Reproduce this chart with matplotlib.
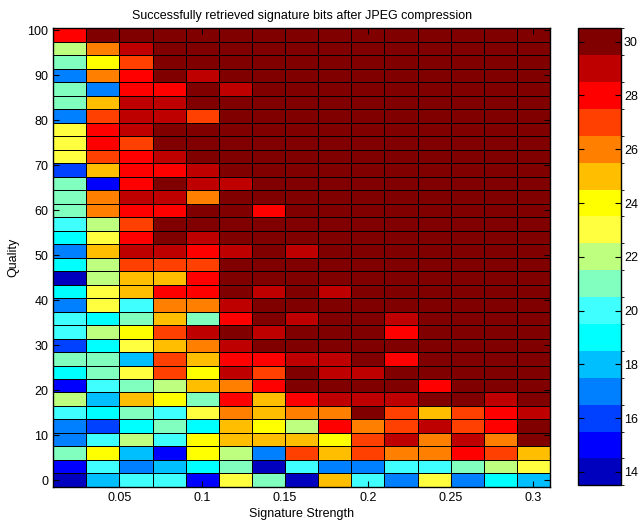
import matplotlib
matplotlib.use("Agg")
import matplotlib.pyplot as plt
import numpy as np
from matplotlib.colors import ListedColormap, BoundaryNorm

plt.rcParams['font.family'] = ['Liberation Sans', 'DejaVu Sans']
plt.rcParams['font.size'] = 9

# signature strength (column centres) and JPEG quality (row centres)
strength = [0.02, 0.04, 0.06, 0.08, 0.10, 0.12, 0.14, 0.16,
            0.18, 0.20, 0.22, 0.24, 0.26, 0.28, 0.30]
quality = [99, 96, 93, 90, 87, 84, 81, 78, 75, 72, 69, 66, 63, 60, 57, 54, 51,
           48, 45, 42, 39, 36, 33, 30, 27, 24, 21, 18, 15, 12, 9, 6, 3, 0]

# retrieved bits, one row per quality (top row = quality 99)
bits = [
    [28, 30, 30, 30, 30, 30, 30, 30, 30, 30, 30, 30, 30, 30, 30],
    [22, 26, 29, 30, 30, 30, 30, 30, 30, 30, 30, 30, 30, 30, 30],
    [21, 24, 27, 30, 30, 30, 30, 30, 30, 30, 30, 30, 30, 30, 30],
    [17, 26, 28, 30, 29, 30, 30, 30, 30, 30, 30, 30, 30, 30, 30],
    [21, 17, 28, 28, 30, 29, 30, 30, 30, 30, 30, 30, 30, 30, 30],
    [21, 25, 29, 29, 30, 30, 30, 30, 30, 30, 30, 30, 30, 30, 30],
    [17, 27, 29, 29, 27, 30, 30, 30, 30, 30, 30, 30, 30, 30, 30],
    [23, 28, 29, 30, 30, 30, 30, 30, 30, 30, 30, 30, 30, 30, 30],
    [23, 28, 27, 30, 30, 30, 30, 30, 30, 30, 30, 30, 30, 30, 30],
    [23, 27, 28, 29, 30, 30, 30, 30, 30, 30, 30, 30, 30, 30, 30],
    [16, 25, 28, 28, 29, 30, 30, 30, 30, 30, 30, 30, 30, 30, 30],
    [21, 15, 28, 30, 29, 29, 30, 30, 30, 30, 30, 30, 30, 30, 30],
    [21, 26, 29, 29, 26, 30, 30, 30, 30, 30, 30, 30, 30, 30, 30],
    [21, 26, 28, 28, 30, 30, 28, 30, 30, 30, 30, 30, 30, 30, 30],
    [20, 22, 27, 30, 30, 30, 30, 30, 30, 30, 30, 30, 30, 30, 30],
    [19, 23, 28, 30, 29, 30, 30, 30, 30, 30, 30, 30, 30, 30, 30],
    [17, 25, 29, 29, 28, 29, 30, 29, 30, 30, 30, 30, 30, 30, 30],
    [19, 22, 27, 27, 27, 30, 30, 30, 30, 30, 30, 30, 30, 30, 30],
    [14, 22, 25, 25, 28, 30, 30, 30, 30, 30, 30, 30, 30, 30, 30],
    [19, 23, 25, 28, 28, 30, 29, 30, 29, 30, 30, 30, 30, 30, 30],
    [17, 23, 20, 26, 26, 29, 30, 30, 30, 30, 30, 30, 30, 30, 30],
    [20, 19, 21, 25, 21, 28, 30, 29, 30, 30, 29, 30, 30, 30, 30],
    [20, 22, 24, 27, 29, 30, 29, 30, 30, 30, 28, 30, 30, 30, 30],
    [16, 19, 23, 25, 26, 29, 30, 30, 30, 30, 30, 30, 30, 30, 30],
    [21, 21, 18, 27, 25, 28, 28, 29, 29, 30, 28, 30, 30, 30, 30],
    [19, 21, 23, 27, 24, 29, 27, 30, 29, 29, 30, 30, 30, 30, 30],
    [15, 20, 21, 22, 25, 26, 28, 30, 30, 30, 30, 28, 30, 30, 30],
    [22, 18, 25, 24, 21, 28, 25, 28, 29, 29, 29, 30, 30, 29, 30],
    [20, 19, 21, 20, 23, 26, 25, 26, 26, 30, 27, 25, 27, 28, 29],
    [17, 16, 19, 21, 19, 25, 24, 22, 28, 26, 27, 29, 27, 28, 30],
    [17, 20, 22, 20, 24, 25, 25, 25, 24, 27, 29, 26, 29, 26, 30],
    [21, 24, 18, 15, 24, 22, 17, 27, 25, 27, 26, 26, 28, 27, 25],
    [15, 20, 17, 18, 19, 21, 14, 20, 17, 17, 20, 20, 21, 22, 23],
    [14, 18, 20, 20, 15, 23, 21, 14, 25, 20, 17, 23, 17, 19, 18],
]

levels = [14, 15, 16, 17, 18, 19, 20, 21, 22, 23, 24, 25, 26, 27, 28, 29, 30]
level_colors = ['#0000bf', '#0000ff', '#0040ff', '#0080ff', '#00bfff', '#00ffff',
                '#40ffff', '#80ffbf', '#bfff80', '#ffff40', '#ffff00', '#ffbf00',
                '#ff8000', '#ff4000', '#ff0000', '#bf0000', '#800000']

cmap = ListedColormap(level_colors)
bounds = [v - 0.5 for v in levels] + [levels[-1] + 0.5]
norm = BoundaryNorm(bounds, cmap.N)

fig = plt.figure(figsize=(6.41, 5.23), dpi=100)
ax = fig.add_axes([0.083, 0.069, 0.775, 0.877])
cax = fig.add_axes([0.902, 0.072, 0.067, 0.874])

Z = np.array(bits)[::-1]
Q = quality[::-1]
mesh = ax.pcolormesh(strength, Q, Z, shading='nearest', cmap=cmap, norm=norm,
                     edgecolors='k', linewidth=0.6)

ax.set_xlim(0.01, 0.31)
ax.set_ylim(-1.5, 100.5)
ax.set_xticks([0.05, 0.1, 0.15, 0.2, 0.25, 0.3])
ax.set_xticklabels(['0.05', '0.1', '0.15', '0.2', '0.25', '0.3'])
ax.set_yticks(range(0, 101, 10))
ax.tick_params(direction='in', top=True, right=True, length=4, width=0.8, labelsize=9)
for s in ax.spines.values():
    s.set_linewidth(1.0)

ax.set_title('Successfully retrieved signature bits after JPEG compression', fontsize=9, pad=7)
ax.set_xlabel('Signature Strength', fontsize=9, labelpad=3)
ax.set_ylabel('Quality', fontsize=9, labelpad=6)

cb = fig.colorbar(mesh, cax=cax, ticks=list(range(14, 31, 2)))
cb.ax.tick_params(direction='in', left=True, right=True, length=4, width=0.8,
                  labelsize=9, pad=2)
cb.outline.set_linewidth(1.0)

fig.savefig('out.png', dpi=100)
